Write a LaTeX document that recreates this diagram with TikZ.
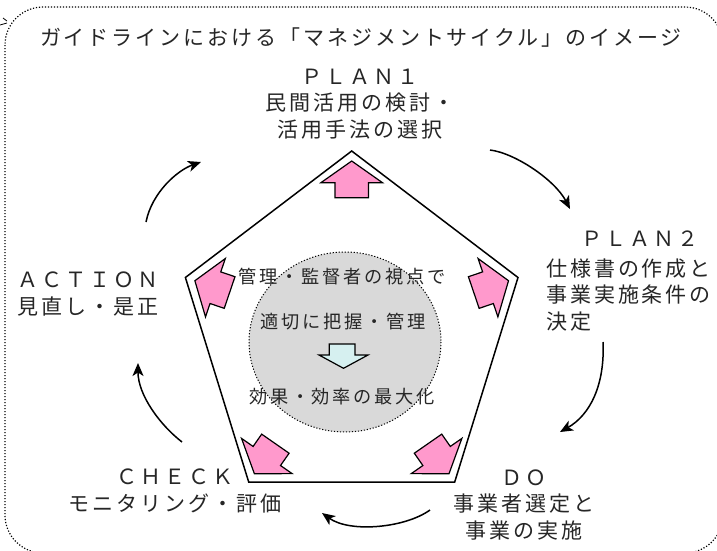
\documentclass[tikz,border=0pt]{standalone}
\usepackage{fontspec}
\usetikzlibrary{arrows.meta}
\newfontfamily\jpfont{Noto Sans CJK JP}[LetterSpace=14]
\newfontfamily\jpfontc{Noto Sans CJK JP}[LetterSpace=15]
\definecolor{pinkfill}{RGB}{255,153,204}
\definecolor{grayfill}{RGB}{217,217,217}
\definecolor{cyanfill}{RGB}{214,240,240}
\definecolor{txt}{RGB}{38,38,38}
\tikzset{
  lbl/.style={font=\jpfont\fontsize{21pt}{26.5pt}\selectfont, text=txt, inner sep=0pt, align=center},
  ctr/.style={font=\jpfontc\fontsize{18.2pt}{21pt}\selectfont, text=txt, inner sep=0pt, align=center},
  cyc/.style={line width=1.5pt, -{Stealth[length=13pt,width=11pt,inset=3.5pt]}},
  pinkarrow/.style={fill=pinkfill, draw=black, line width=1.2pt, line join=miter},
  dotframe/.style={line width=1.2pt, dash pattern=on 1.2pt off 1.8pt},
}
\newcommand\vtxarrow[2]{%
  \begin{scope}[shift={(#1)},rotate=#2]
    \draw[pinkarrow] (0,10) -- (30.8,31.7) -- (16.7,31.7) -- (16.7,46.7) -- (-16.7,46.7) -- (-16.7,31.7) -- (-30.8,31.7) -- cycle;
  \end{scope}}
\begin{document}
\begin{tikzpicture}[x=1pt,y=-1pt]
\useasboundingbox (0,0) rectangle (717,550);
\fill[white] (0,0) rectangle (717,550);
% outer frame
\draw[dotframe, rounded corners=38pt] (5,7) rectangle (723,553);
\draw[line width=0.8pt] (0,25) -- (7,23);
\draw[line width=0.8pt] (3,18) -- (7,21);
% pentagon
\coordinate (T) at (351.7,151);
\coordinate (R) at (518,277.5);
\coordinate (BR) at (454.7,482);
\coordinate (BL) at (248.7,482);
\coordinate (L) at (185.4,277.5);
\draw[line width=1.5pt, line join=miter] (T) -- (R) -- (BR) -- (BL) -- (L) -- cycle;
% centre ellipse
\draw[fill=grayfill, dotframe, line width=1pt] (345,342) ellipse [x radius=96, y radius=90];
% pink arrows
\vtxarrow{T}{0}
\vtxarrow{R}{-71.23}
\vtxarrow{BR}{-145.16}
\vtxarrow{BL}{145.16}
\vtxarrow{L}{71.23}
% centre down arrow
\draw[fill=cyanfill, line width=1.2pt, line join=miter] (329.3,344) -- (355,344) -- (355,355) -- (368,355) -- (343.5,368.3) -- (319,355) -- (329.3,355) -- cycle;
% centre texts
\node[ctr] (c1) at (342,277) {管理・監督者の視点で};
\node[ctr] (c2) at (343,322) {適切に把握・管理};
\node[ctr] (c3) at (342,397) {効果・効率の最大化};
% title
\node[lbl] (title) at (361,38) {ガイドラインにおける「マネジメントサイクル」のイメージ};
% stage labels
\node[lbl] (plan1) at (360,104) {ＰＬＡＮ１\\民間活用の検討・\\活用手法の選択};
\node[lbl] (plan2h) at (640,239) {ＰＬＡＮ２};
\node[lbl, anchor=west, align=left] (plan2) at (546,295) {仕様書の作成と\\事業実施条件の\\決定};
\node[lbl] (act) at (88,294) {ＡＣＴＩＯＮ\\見直し・是正};
\node[lbl] (chk) at (175,491) {ＣＨＥＣＫ\\モニタリング・評価};
\node[lbl] (do) at (524,505) {ＤＯ\\事業者選定と\\事業の実施};
% cycle arrows
\coordinate (a1) at (146,222); \coordinate (a2) at (201,162);
\draw[cyc] (a1) .. controls (152,192) and (178,170) .. (a2);
\coordinate (b1) at (490,150); \coordinate (b2) at (570,209);
\draw[cyc] (b1) .. controls (515,153) and (555,180) .. (b2);
\coordinate (c1s) at (603,342); \coordinate (c2s) at (560,432);
\draw[cyc] (c1s) .. controls (605,385) and (590,415) .. (c2s);
\coordinate (d1) at (430,510); \coordinate (d2) at (322,513);
\draw[cyc] (d1) .. controls (405,528) and (350,533) .. (d2);
\coordinate (e1) at (182,442); \coordinate (e2) at (138,363);
\draw[cyc] (e1) .. controls (160,425) and (138,395) .. (e2);
\end{tikzpicture}
\end{document}
